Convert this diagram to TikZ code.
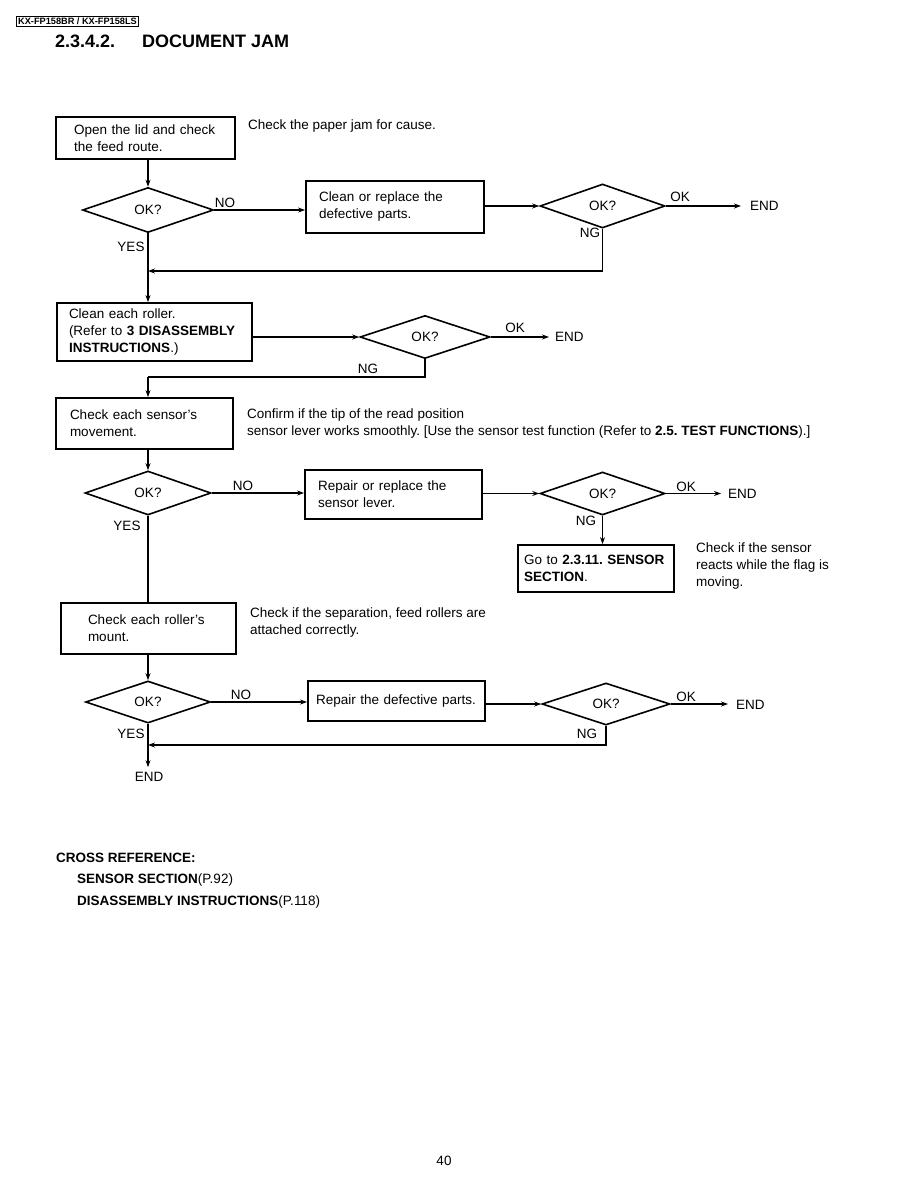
\documentclass[tikz,border=0pt]{standalone}
\usepackage{fontspec}
\setmainfont{Liberation Sans}
\usetikzlibrary{shapes.geometric, arrows.meta}
\frenchspacing

\begin{document}
\begin{tikzpicture}[
        x=1pt, y=-1pt,
        font=\fontsize{13.5}{17}\selectfont,
        stepbox/.style={rectangle, draw=black, line width=1.8pt, align=left, inner ysep=0pt},
        check/.style={diamond, draw=black, line width=1.6pt, inner sep=0pt},
        note/.style={anchor=west, align=left, inner sep=0pt},
        lbl/.style={inner sep=0pt},
        endlbl/.style={anchor=west, inner sep=0pt},
        conn/.style={-{Stealth[length=7pt, width=5pt]}, line width=1.1pt},
        plainline/.style={line width=1.1pt}
    ]
    \useasboundingbox (0,0) rectangle (918,1188);

    % Header
    \node[draw, line width=0.8pt, inner xsep=1.5pt, inner ysep=1.5pt, font=\bfseries\fontsize{9.2}{10}\selectfont] (model) at (77.5,21.5) {KX-FP158BR / KX-FP158LS};
    \node[lbl, anchor=west, font=\bfseries\fontsize{18}{20}\selectfont] (secnum) at (55,41) {2.3.4.2.};
    \node[lbl, anchor=west, font=\bfseries\fontsize{18}{20}\selectfont] (title) at (142,41) {DOCUMENT JAM};

    % Boxes
    \node[stepbox, minimum height=42pt, text width=143pt, inner xsep=18pt] (box1) at (145.5,138) {Open the lid and check\\the feed route.};
    \node[stepbox, minimum height=52pt, text width=152pt, inner xsep=13pt] (box2) at (395,207) {Clean or replace the\\defective parts.};
    \node[stepbox, minimum height=58pt, text width=171pt, inner xsep=12pt] (box3) at (154.5,332) {Clean each roller.\\(Refer to \textbf{3 DISASSEMBLY}\\\textbf{INSTRUCTIONS}.)};
    \node[stepbox, minimum height=51pt, text width=149pt, inner xsep=14pt] (box4) at (144.5,423.5) {Check each sensor's\\movement.};
    \node[stepbox, minimum height=49pt, text width=151pt, inner xsep=13pt] (box5) at (393.5,494.5) {Repair or replace the\\sensor lever.};
    \node[stepbox, minimum height=47pt, text width=144pt, inner xsep=6pt] (box6) at (596,568.5) {Go to \textbf{2.3.11. SENSOR}\\\textbf{SECTION}.};
    \node[stepbox, minimum height=51pt, text width=121pt, inner xsep=27pt] (box7) at (148.5,628.5) {Check each roller's\\mount.};
    \node[stepbox, minimum height=40pt, text width=161pt, inner xsep=8pt] (box8) at (396.5,701) {Repair the defective parts.};

    % Decisions
    \node[check, minimum width=131pt, minimum height=45pt] (d1) at (148,210) {OK?};
    \node[check, minimum width=125pt, minimum height=44pt] (d2) at (602.5,206) {OK?};
    \node[check, minimum width=130pt, minimum height=43pt] (d3) at (425,337) {OK?};
    \node[check, minimum width=126pt, minimum height=44pt] (d4) at (148,493) {OK?};
    \node[check, minimum width=125pt, minimum height=43pt] (d5) at (602.5,493.5) {OK?};
    \node[check, minimum width=125pt, minimum height=42pt] (d7) at (148,702) {OK?};
    \node[check, minimum width=128pt, minimum height=42pt] (d8) at (606,704) {OK?};

    % Notes
    \node[note] (note1) at (248,126) {Check the paper jam for cause.};
    \node[note] (note4) at (247,423.5) {Confirm if the tip of the read position\\sensor lever works smoothly. [Use the sensor test function (Refer to \textbf{2.5. TEST FUNCTIONS}).]};
    \node[note] (note6) at (696,566) {Check if the sensor\\reacts while the flag is\\moving.};
    \node[note] (note7) at (250,622.5) {Check if the separation, feed rollers are\\attached correctly.};

    % END marks
    \node[endlbl] (end1) at (750,206) {END};
    \node[endlbl] (end2) at (555,337) {END};
    \node[endlbl] (end3) at (728,494) {END};
    \node[endlbl] (end4) at (736,705) {END};
    \node[lbl] (end5) at (149,777) {END};

    % Junctions on the main line
    \coordinate (j1) at (148,271);
    \coordinate (j2) at (148,377);
    \coordinate (j3) at (148,745);

    % Connectors
    \draw[conn] (box1.south -| d1.north) -- (d1.north);
    \draw[conn] (d1.east) -- (d1.east -| box2.west);
    \draw[conn] (box2.east |- d2.west) -- (d2.west);
    \draw[conn, shorten >=9pt] (d2.east) -- (d2.east -| end1.west);
    \draw[conn] (d2.south) |- (j1);
    \draw[conn] (d1.south) -- (d1.south |- box3.north);
    \draw[conn] (box3.east |- d3.west) -- (d3.west);
    \draw[conn, shorten >=6pt] (d3.east) -- (d3.east -| end2.west);
    \draw[plainline] (d3.south) |- (j2);
    \draw[conn] (j2) -- (j2 |- box4.north);
    \draw[conn] (box4.south -| d4.north) -- (d4.north);
    \draw[conn] (d4.east) -- (d4.east -| box5.west);
    \draw[conn] (box5.east |- d5.west) -- (d5.west);
    \draw[conn, shorten >=7pt] (d5.east) -- (d5.east -| end3.west);
    \draw[conn] (d5.south) -- (d5.south |- box6.north);
    \draw[plainline] (d4.south) -- (d4.south |- box7.north);
    \draw[conn] (box7.south -| d7.north) -- (d7.north);
    \draw[conn] (d7.east) -- (d7.east -| box8.west);
    \draw[conn] (box8.east |- d8.west) -- (d8.west);
    \draw[conn, shorten >=8pt] (d8.east) -- (d8.east -| end4.west);
    \draw[conn] (d8.south) |- (j3);
    \draw[conn, shorten >=5pt] (d7.south) -- (d7.south |- end5.north);

    % Branch labels
    \node[lbl] (no1) at (225,203) {NO};
    \node[lbl] (yes1) at (131,247) {YES};
    \node[lbl] (ok2) at (680,197) {OK};
    \node[lbl] (ng2) at (590,233) {NG};
    \node[lbl] (ok3) at (515,328) {OK};
    \node[lbl] (ng3) at (368,369) {NG};
    \node[lbl] (no4) at (243,486) {NO};
    \node[lbl] (yes4) at (127,526) {YES};
    \node[lbl] (ok5) at (686,487) {OK};
    \node[lbl] (ng5) at (586,521) {NG};
    \node[lbl] (no7) at (241,695) {NO};
    \node[lbl] (yes7) at (131,734) {YES};
    \node[lbl] (ok8) at (686,697) {OK};
    \node[lbl] (ng8) at (587,734) {NG};

    % Cross reference
    \node[note, font=\bfseries\fontsize{13.5}{17}\selectfont] (xref) at (56,858) {CROSS REFERENCE:};
    \node[note] (xref1) at (77,880) {\textbf{SENSOR SECTION}(P.92)};
    \node[note] (xref2) at (77,902) {\textbf{DISASSEMBLY INSTRUCTIONS}(P.118)};

    % Page number
    \node[lbl] (page) at (444,1161) {40};

\end{tikzpicture}
\end{document}
